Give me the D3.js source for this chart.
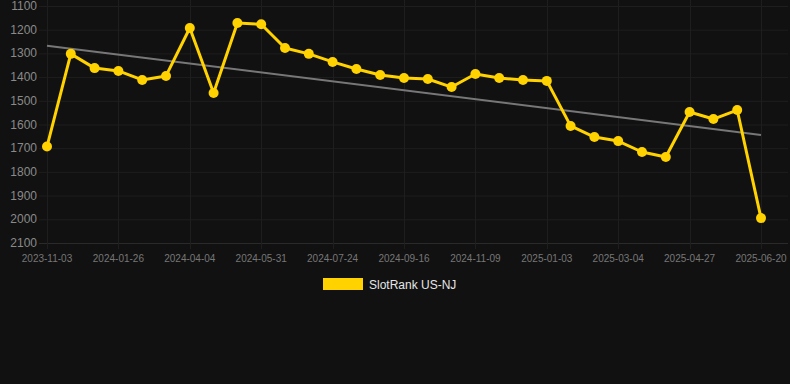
<!DOCTYPE html>
<html>
<head>
<meta charset="utf-8">
<script src="https://cdn.jsdelivr.net/npm/d3@7"></script>
<style>
  html, body { margin: 0; padding: 0; background: #111111; }
  svg { display: block; font-family: "Liberation Sans", Arial, sans-serif; }
</style>
</head>
<body>
<svg id="chart"></svg>
<script>
// slot rank chart, lower rank number = better, so y is flipped

let width = 790, height = 384;

let dates = [
  "2023-11-03", "2023-12-01", "2023-12-29",
  "2024-01-26", "2024-02-18", "2024-03-12",
  "2024-04-04", "2024-04-23", "2024-05-12",
  "2024-05-31", "2024-06-18", "2024-07-06",
  "2024-07-24", "2024-08-11", "2024-08-29",
  "2024-09-16", "2024-10-04", "2024-10-22",
  "2024-11-09", "2024-11-27", "2024-12-15",
  "2025-01-03", "2025-01-23", "2025-02-12",
  "2025-03-04", "2025-03-22", "2025-04-09",
  "2025-04-27", "2025-05-15", "2025-06-02",
  "2025-06-20"
];

let ranks = [
  1693, 1302, 1362, 1374, 1412, 1395, 1193, 1467, 1172, 1177,
  1277, 1302, 1336, 1366, 1391, 1404, 1408, 1442, 1387, 1404,
  1412, 1416, 1606, 1653, 1670, 1716, 1737, 1547, 1577, 1539,
  1995
];

let yTicks = [1100, 1200, 1300, 1400, 1500, 1600, 1700, 1800, 1900, 2000, 2100];
let seriesName = "SlotRank US-NJ";

let margin = {top: 6, right: 29, bottom: 141, left: 47};

let svg = d3.select("#chart")
  .attr("width", width)
  .attr("height", height);

let x = d3.scalePoint()
  .domain(dates)
  .range([margin.left, width - margin.right]);

let y = d3.scaleLinear()
  .domain([1100, 2100])
  .range([margin.top, height - margin.bottom]);

// grid
svg.append("g")
  .selectAll("line")
  .data(yTicks)
  .enter()
  .append("line")
    .attr("x1", margin.left - 8)
    .attr("x2", width - 2)
    .attr("y1", d => y(d) + 0.5)
    .attr("y2", d => y(d) + 0.5)
    .attr("stroke", d => d == 2100 ? "#2a2a2a" : "#1e1e1e");

let tickDates = dates.filter((d, i) => i % 3 == 0);

svg.append("g")
  .selectAll("line")
  .data(tickDates)
  .enter()
  .append("line")
    .attr("x1", d => Math.round(x(d)) + 0.5)
    .attr("x2", d => Math.round(x(d)) + 0.5)
    .attr("y1", 0)
    .attr("y2", y(2100) + 6)
    .attr("stroke", "#1e1e1e");

// y labels
svg.append("g")
  .selectAll("text")
  .data(yTicks)
  .enter()
  .append("text")
    .attr("x", 37)
    .attr("y", d => y(d) + 4)
    .attr("text-anchor", "end")
    .attr("fill", "#8a8a8a")
    .attr("font-size", 12)
    .text(d => d);

// x labels
svg.append("g")
  .selectAll("text")
  .data(tickDates)
  .enter()
  .append("text")
    .attr("x", d => x(d))
    .attr("y", y(2100) + 19)
    .attr("text-anchor", "middle")
    .attr("fill", "#777")
    .attr("font-size", 10)
    .text(d => d);

// trend line (least squares on index)
let n = ranks.length;
let mx = d3.mean(ranks, (d, i) => i);
let my = d3.mean(ranks);
let sxy = d3.sum(ranks, (d, i) => (i - mx) * (d - my));
let sxx = d3.sum(ranks, (d, i) => (i - mx) * (i - mx));
let slope = sxy / sxx;
let icpt = my - slope * mx;

svg.append("line")
  .attr("x1", x(dates[0]))
  .attr("y1", y(icpt))
  .attr("x2", x(dates[n - 1]))
  .attr("y2", y(icpt + slope * (n - 1)))
  .attr("stroke", "#777")
  .attr("stroke-width", 2);

// series
let line = d3.line()
  .x((d, i) => x(dates[i]))
  .y(d => y(d));

svg.append("path")
  .datum(ranks)
  .attr("fill", "none")
  .attr("stroke", "#ffd200")
  .attr("stroke-width", 3)
  .attr("stroke-linejoin", "round")
  .attr("d", line);

svg.append("g")
  .selectAll("circle")
  .data(ranks)
  .enter()
  .append("circle")
    .attr("cx", (d, i) => x(dates[i]))
    .attr("cy", d => y(d))
    .attr("r", 5)
    .attr("fill", "#ffd200");

// legend
let legend = svg.append("g");
legend.append("rect")
  .attr("x", 323)
  .attr("y", 278)
  .attr("width", 40)
  .attr("height", 12)
  .attr("fill", "#ffd200");
legend.append("text")
  .attr("x", 369)
  .attr("y", 289)
  .attr("fill", "#e6e6e6")
  .attr("font-size", 12)
  .text(seriesName);
</script>
</body>
</html>
